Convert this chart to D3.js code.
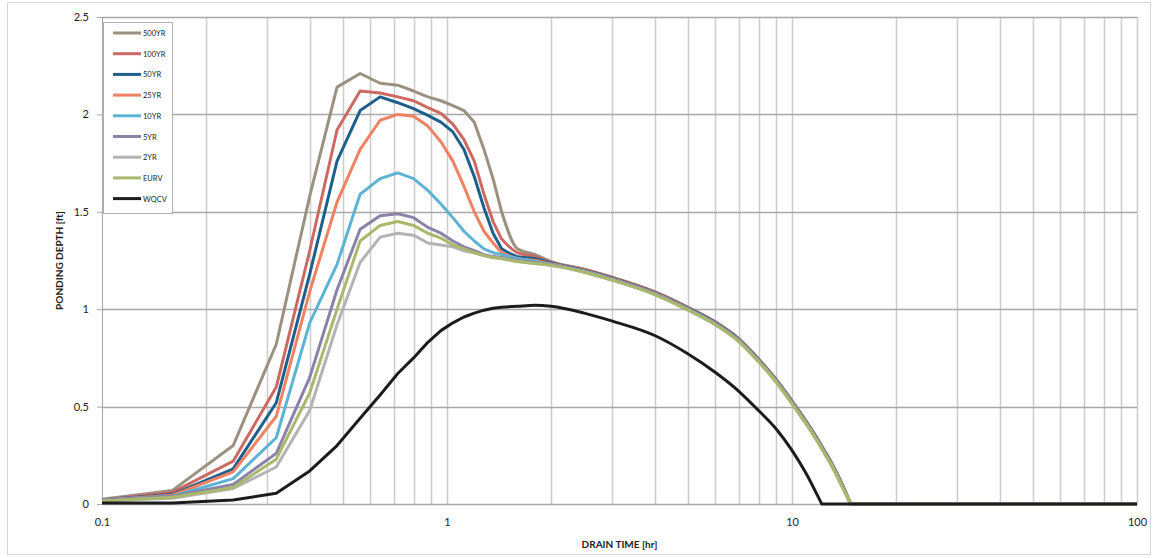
<!DOCTYPE html>
<html><head><meta charset="utf-8">
<script src="https://cdn.jsdelivr.net/npm/d3@7"></script>
<style>
html,body{margin:0;padding:0;background:#fff;}
text{font-family:Lato,"Open Sans",sans-serif;}
</style></head>
<body>
<svg id="chart" width="1156" height="558"></svg>
<script>
const time = [0.1,0.16,0.24,0.32,0.4,0.48,0.56,0.64,0.72,0.8,0.88,0.96,1.04,1.12,1.2,1.28,1.36,1.44,1.6,1.8,2,2.5,3,4,5,6,7,8,9,10,11,12,12.2,13,14,14.8,100];
const yr500 = [0.025,0.07,0.30,0.82,1.58,2.14,2.21,2.16,2.15,2.12,2.09,2.07,2.045,2.02,1.96,1.82,1.67,1.50,1.31,1.28,1.245,1.205,1.165,1.09,1.01,0.935,0.85,0.745,0.64,0.53,0.425,0.32,0.298,0.215,0.10,0,0];
const yr100 = [0.02,0.06,0.22,0.60,1.30,1.92,2.12,2.11,2.09,2.07,2.035,2.005,1.95,1.87,1.76,1.59,1.45,1.36,1.29,1.27,1.24,1.203,1.163,1.088,1.008,0.933,0.848,0.743,0.638,0.528,0.423,0.318,0.296,0.213,0.098,0,0];
const yr50 = [0.02,0.05,0.18,0.52,1.18,1.76,2.02,2.09,2.06,2.03,1.995,1.96,1.91,1.82,1.68,1.52,1.39,1.31,1.27,1.26,1.237,1.2,1.16,1.085,1.005,0.93,0.845,0.74,0.635,0.525,0.42,0.315,0.293,0.21,0.095,0,0];
const yr25 = [0.02,0.045,0.165,0.45,1.09,1.55,1.82,1.97,2.00,1.99,1.94,1.86,1.76,1.63,1.50,1.40,1.34,1.29,1.26,1.25,1.233,1.197,1.157,1.082,1.002,0.927,0.842,0.737,0.632,0.522,0.417,0.312,0.29,0.207,0.092,0,0];
const yr10 = [0.02,0.04,0.13,0.34,0.93,1.23,1.59,1.67,1.70,1.67,1.61,1.54,1.47,1.40,1.35,1.31,1.29,1.28,1.26,1.245,1.23,1.195,1.155,1.08,1.0,0.925,0.84,0.735,0.63,0.52,0.415,0.31,0.288,0.205,0.09,0,0];
const yr5 = [0.02,0.04,0.10,0.26,0.65,1.10,1.41,1.48,1.49,1.47,1.42,1.39,1.35,1.32,1.30,1.28,1.27,1.265,1.25,1.24,1.228,1.193,1.153,1.078,0.998,0.923,0.838,0.733,0.628,0.518,0.413,0.308,0.286,0.203,0.088,0,0];
const yr2 = [0.015,0.03,0.08,0.19,0.48,0.92,1.24,1.37,1.39,1.38,1.34,1.33,1.32,1.30,1.29,1.275,1.265,1.26,1.245,1.235,1.225,1.19,1.15,1.075,0.995,0.92,0.835,0.73,0.625,0.515,0.41,0.305,0.283,0.20,0.085,0,0];
const eurv = [0.015,0.035,0.085,0.23,0.57,1.00,1.35,1.43,1.45,1.43,1.39,1.365,1.33,1.31,1.29,1.275,1.265,1.26,1.245,1.235,1.225,1.19,1.15,1.075,0.995,0.92,0.835,0.73,0.625,0.515,0.41,0.305,0.283,0.20,0.085,0,0];
const wqcv = [0.005,0.005,0.02,0.055,0.17,0.30,0.44,0.56,0.67,0.75,0.83,0.89,0.93,0.96,0.98,0.995,1.005,1.01,1.015,1.02,1.015,0.98,0.94,0.865,0.77,0.675,0.58,0.48,0.385,0.275,0.155,0.025,0,0,0,0,0];

const seriesNames = ["500YR","100YR","50YR","25YR","10YR","5YR","2YR","EURV","WQCV"];
const seriesValues = [yr500,yr100,yr50,yr25,yr10,yr5,yr2,eurv,wqcv];
const seriesColors = ["#9a9181","#cc6a62","#1f5f8b","#ef8262","#5db3d3","#8a82a8","#b3b3b3","#a9b96c","#1c1c1c"];
const yTicks = [0,0.5,1,1.5,2,2.5];
const xTicks = [0.1,1,10,100];
const xMinor = [0.2,0.3,0.4,0.5,0.6,0.7,0.8,0.9,2,3,4,5,6,7,8,9,20,30,40,50,60,70,80,90];

const svg = d3.select("#chart");
const L=102, R=1137, T=17, B=504;
const x = d3.scaleLog().domain([0.1,100]).range([L,R]);
const y = d3.scaleLinear().domain([0,2.5]).range([B,T]);

// outer chart border
svg.append("rect").attr("x",7.5).attr("y",2.5).attr("width",1143).attr("height",552)
  .attr("fill","none").attr("stroke","#d6d6d6").attr("stroke-width",1);

// vertical gridlines
svg.append("g").selectAll("line").data(xMinor.concat([1,10,100])).join("line")
  .attr("x1",d=>Math.round(x(d))+0.5).attr("x2",d=>Math.round(x(d))+0.5)
  .attr("y1",T).attr("y2",B).attr("stroke","#cccccc").attr("stroke-width",1.5);
// horizontal gridlines
svg.append("g").selectAll("line").data(yTicks.filter(d=>d>0)).join("line")
  .attr("x1",L).attr("x2",R).attr("y1",d=>Math.round(y(d))+0.5).attr("y2",d=>Math.round(y(d))+0.5)
  .attr("stroke","#a8a8a8").attr("stroke-width",1.5);

// axes
const yAxis = svg.append("g").attr("transform",`translate(${L},0)`)
  .call(d3.axisLeft(y).tickValues(yTicks).tickSize(5).tickPadding(8).tickFormat(d3.format("")));
yAxis.select(".domain").attr("stroke","#a8a8a8");
yAxis.selectAll(".tick line").attr("stroke","#a8a8a8");
yAxis.selectAll("text").attr("font-size",11).attr("fill","#222");

const xAxis = svg.append("g").attr("transform",`translate(0,${B})`)
  .call(d3.axisBottom(x).tickValues(xTicks).tickSize(0).tickPadding(14).tickFormat(d3.format("")));
xAxis.select(".domain").attr("stroke","#a8a8a8").attr("stroke-width",1.5);
xAxis.selectAll("text").attr("font-size",11).attr("fill","#222");

// series: polyline for the early rise, smooth curve for the long recession
const lineLin = d3.line().x(d=>x(d[0])).y(d=>y(d[1]));
const lineSmooth = d3.line().x(d=>x(d[0])).y(d=>y(d[1])).curve(d3.curveMonotoneX);
seriesValues.forEach((vals,i)=>{
  const pts = time.map((t,j)=>[t,vals[j]]);
  const s = time.indexOf(1.44);
  let z = vals.findIndex((v,j)=>j>s && v===0);
  if (z < 0) z = pts.length-1;
  const head = lineLin(pts.slice(0,s+1));
  const mid = lineSmooth(pts.slice(s,z+1)).replace(/^M/,"L");
  const tail = lineLin(pts.slice(z)).replace(/^M/,"L");
  svg.append("path").attr("d",head+mid+tail).attr("fill","none").attr("stroke",seriesColors[i])
    .attr("stroke-width",3).attr("stroke-linejoin","round");
});

// axis titles
svg.append("text").attr("x",(L+R)/2).attr("y",548).attr("text-anchor","middle")
  .attr("font-size",10).attr("font-weight","bold").attr("fill","#222").text("DRAIN TIME [hr]");
svg.append("text").attr("transform",`translate(63,${(T+B)/2}) rotate(-90)`).attr("text-anchor","middle")
  .attr("font-size",10).attr("font-weight","bold").attr("fill","#222").text("PONDING DEPTH [ft]");

// legend
const lg = svg.append("g");
lg.append("rect").attr("x",103.5).attr("y",22.5).attr("width",69).attr("height",191)
  .attr("fill","#fff").attr("stroke","#b0b0b0");
seriesNames.forEach((n,i)=>{
  const yy = 33 + i*20.7;
  lg.append("line").attr("x1",113).attr("x2",141).attr("y1",yy).attr("y2",yy)
    .attr("stroke",seriesColors[i]).attr("stroke-width",3);
  lg.append("text").attr("x",143).attr("y",yy+3).attr("font-size",7.5).attr("fill","#222").text(n);
});
</script>
</body></html>
